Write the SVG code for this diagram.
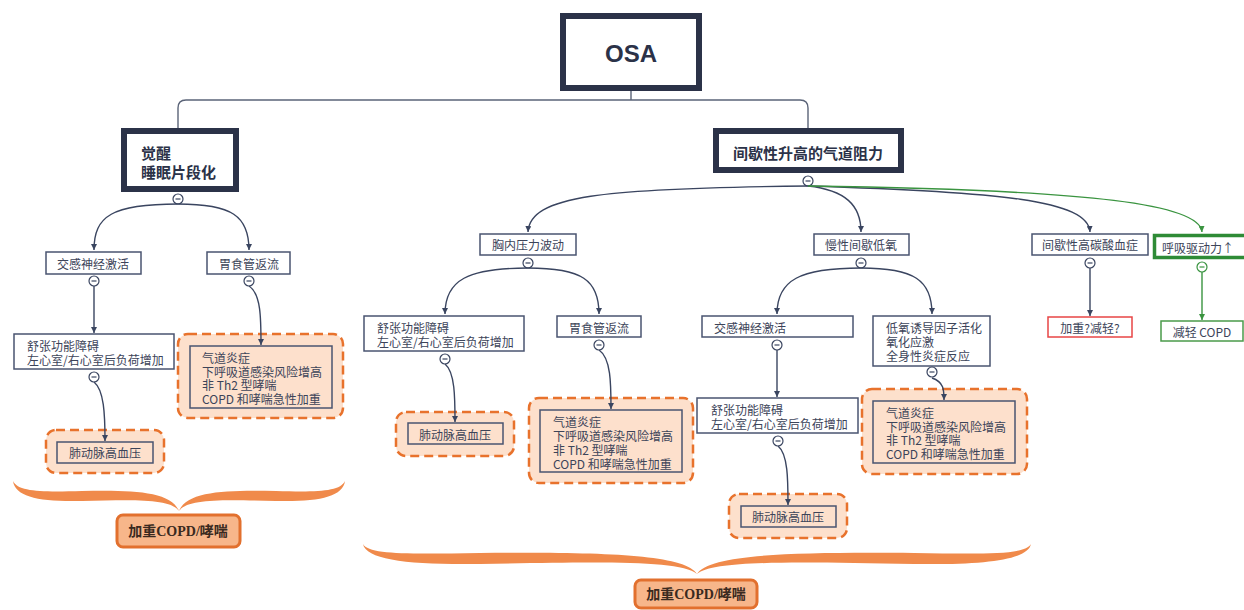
<svg xmlns="http://www.w3.org/2000/svg" width="1244" height="610" viewBox="0 0 1244 610">
<style>
  .t{font-family:"Noto Sans CJK SC","Noto Sans",sans-serif;fill:#3c4459;font-size:12px;dominant-baseline:central}
  .c{text-anchor:middle}
  .b{font-weight:bold;fill:#2b3248}
  .box{fill:#fff;stroke:#4a5470;stroke-width:1.5}
  .main{fill:#fff;stroke:#2b3248;stroke-width:6}
  .dash{fill:#fde0cc;stroke:#e8722c;stroke-width:2.5;stroke-dasharray:9 5}
  .inner{fill:#fde0cc;stroke:#4a5470;stroke-width:1.5}
  .ln{fill:none;stroke:#3a4560;stroke-width:1.4}
  .gl{fill:none;stroke:#3a9440;stroke-width:1.4}
  .brace{fill:#f08a4b}
  .lab{fill:#f7b68a;stroke:#e2702e;stroke-width:3}
  .labt{font-family:"Liberation Serif","Noto Sans CJK SC",serif;font-weight:bold;font-size:14px;fill:#3a2a20;text-anchor:middle;dominant-baseline:central}
</style>
<defs>
  <marker id="ah" viewBox="0 0 8 8" refX="8" refY="4" markerWidth="6" markerHeight="6" orient="auto" markerUnits="userSpaceOnUse"><path d="M0,0 L8,4 L0,8 z" fill="#3a4560"/></marker>
  <marker id="ahg" viewBox="0 0 8 8" refX="8" refY="4" markerWidth="6" markerHeight="6" orient="auto" markerUnits="userSpaceOnUse"><path d="M0,0 L8,4 L0,8 z" fill="#3a9440"/></marker>
  <g id="col"><circle r="5" fill="#fff" stroke="#3a4560" stroke-width="1.2"/><line x1="-2.5" y1="0" x2="2.5" y2="0" stroke="#3a4560" stroke-width="1.2"/></g>
  <g id="colg"><circle r="5" fill="#fff" stroke="#3a9440" stroke-width="1.2"/><line x1="-2.5" y1="0" x2="2.5" y2="0" stroke="#3a9440" stroke-width="1.2"/></g>
</defs>
<rect width="1244" height="610" fill="#fff"/>

<g id="osa"><rect class="main" x="563" y="16" width="136" height="72"/><text class="t c b" x="631" y="53" style="font-family:'Liberation Sans',sans-serif;font-size:24px">OSA</text></g>

<g id="arousal"><rect class="main" x="124" y="131" width="112" height="58"/>
  <text class="t b" x="141" y="152" style="font-size:15px">觉醒</text>
  <text class="t b" x="141" y="171" style="font-size:15px">睡眠片段化</text>
  <use href="#col" x="178" y="199"/></g>

<g id="resistance"><rect class="main" x="716" y="131" width="185" height="39"/>
  <text class="t c b" x="808" y="152" style="font-size:15px">间歇性升高的气道阻力</text>
  <use href="#col" x="808" y="181"/></g>

<g id="symp1"><rect class="box" x="46" y="252" width="95" height="22"/><text class="t c" x="93" y="263">交感神经激活</text><use href="#col" x="94" y="281"/></g>
<g id="gerd1"><rect class="box" x="207" y="252" width="83" height="22"/><text class="t c" x="249" y="263">胃食管返流</text><use href="#col" x="249" y="281"/></g>
<g id="diast1"><rect class="box" x="14" y="334" width="160" height="35"/>
  <text class="t" x="27" y="345">舒张功能障碍</text><text class="t" x="27" y="359">左心室/右心室后负荷增加</text><use href="#col" x="94" y="377"/></g>
<g id="ph1"><rect class="dash" x="46" y="430" width="118" height="43" rx="10"/><rect class="inner" x="57" y="442" width="96" height="21"/><text class="t c" x="105" y="452">肺动脉高血压</text></g>
<g id="airway1"><rect class="dash" x="178" y="334" width="165" height="84" rx="10"/><rect class="inner" x="190" y="346" width="142" height="62"/>
  <text class="t" x="202" y="357">气道炎症</text><text class="t" x="202" y="371">下呼吸道感染风险增高</text><text class="t" x="202" y="384">非 Th2 型哮喘</text><text class="t" x="202" y="398">COPD 和哮喘急性加重</text></g>

<g id="thorax"><rect class="box" x="480" y="234" width="96" height="21"/><text class="t c" x="528" y="244">胸内压力波动</text><use href="#col" x="528" y="263"/></g>
<g id="hypoxia"><rect class="box" x="814" y="234" width="95" height="21"/><text class="t c" x="861" y="244">慢性间歇低氧</text><use href="#col" x="861" y="263"/></g>
<g id="hypercap"><rect class="box" x="1032" y="234" width="116" height="21"/><text class="t c" x="1090" y="244">间歇性高碳酸血症</text><use href="#col" x="1090" y="263"/></g>
<g id="drive"><rect x="1154.5" y="235.5" width="92" height="22" fill="#fff" stroke="#2e8b36" stroke-width="3.5"/><text class="t c" x="1198" y="247">呼吸驱动力↑</text><use href="#colg" x="1202" y="267"/></g>
<g id="unsure"><rect x="1048" y="317" width="84" height="20" fill="#fff" stroke="#e84545" stroke-width="1.5"/><text class="t c" x="1090" y="327">加重?减轻?</text></g>
<g id="relieve"><rect x="1161" y="321" width="82" height="20" fill="#fff" stroke="#4a9a4a" stroke-width="1.5"/><text class="t c" x="1202" y="331">减轻 COPD</text></g>

<g id="diast2"><rect class="box" x="364" y="316" width="160" height="35"/>
  <text class="t" x="377" y="327">舒张功能障碍</text><text class="t" x="377" y="341">左心室/右心室后负荷增加</text><use href="#col" x="445" y="359"/></g>
<g id="gerd2"><rect class="box" x="557" y="316" width="84" height="21"/><text class="t c" x="599" y="327">胃食管返流</text><use href="#col" x="599" y="345"/></g>
<g id="symp2"><rect class="box" x="702" y="316" width="151" height="21"/><text class="t" x="714" y="327">交感神经激活</text><use href="#col" x="777" y="345"/></g>
<g id="hif"><rect class="box" x="873" y="316" width="117" height="50"/>
  <text class="t" x="886" y="327">低氧诱导因子活化</text><text class="t" x="886" y="341">氧化应激</text><text class="t" x="886" y="355">全身性炎症反应</text><use href="#col" x="932" y="372"/></g>

<g id="ph2"><rect class="dash" x="396" y="412" width="118" height="44" rx="10"/><rect class="inner" x="408" y="423" width="95" height="21"/><text class="t c" x="455" y="434">肺动脉高血压</text></g>
<g id="airway2"><rect class="dash" x="529" y="398" width="164" height="85" rx="10"/><rect class="inner" x="540" y="410" width="142" height="62"/>
  <text class="t" x="553" y="421">气道炎症</text><text class="t" x="553" y="435">下呼吸道感染风险增高</text><text class="t" x="553" y="449">非 Th2 型哮喘</text><text class="t" x="553" y="463">COPD 和哮喘急性加重</text></g>
<g id="diast3"><rect class="box" x="697" y="398" width="161" height="35"/>
  <text class="t" x="711" y="409">舒张功能障碍</text><text class="t" x="711" y="423">左心室/右心室后负荷增加</text><use href="#col" x="778" y="441"/></g>
<g id="ph3"><rect class="dash" x="729" y="494" width="118" height="44" rx="10"/><rect class="inner" x="741" y="506" width="95" height="21"/><text class="t c" x="788" y="516">肺动脉高血压</text></g>
<g id="airway3"><rect class="dash" x="862" y="389" width="165" height="85" rx="10"/><rect class="inner" x="873" y="401" width="142" height="62"/>
  <text class="t" x="886" y="412">气道炎症</text><text class="t" x="886" y="426">下呼吸道感染风险增高</text><text class="t" x="886" y="439">非 Th2 型哮喘</text><text class="t" x="886" y="453">COPD 和哮喘急性加重</text></g>

<g id="brace1">
  <path class="brace" d="M13,481 C15,497 40,502 82,501 C132,500 170,498 179,511 C171,491 132,490 82,491 C42,492 18,492 13,481 Z M345,481 C343,497 318,502 276,501 C226,500 188,498 179,511 C187,491 226,490 276,491 C316,492 340,492 345,481 Z"/>
  <rect class="lab" x="117" y="515" width="123" height="32" rx="6"/><text class="labt" x="178" y="531">加重COPD/哮喘</text>
</g>
<g id="brace2">
  <path class="brace" d="M363,544 C366,560 410,565 480,564 C600,562 680,560 697,574 C685,554 600,552 480,553 C410,554 369,555 363,544 Z M1031,544 C1028,560 984,565 914,564 C794,562 714,560 697,574 C709,554 794,552 914,553 C984,554 1025,555 1031,544 Z"/>
  <rect class="lab" x="635" y="580" width="122" height="28" rx="6"/><text class="labt" x="696" y="594">加重COPD/哮喘</text>
</g>

<g id="connectors">
  <path class="ln" style="stroke:#5b6478" d="M631,91 L631,100 M178,128 L178,108 Q178,100 186,100 L800,100 Q808,100 808,108 L808,128"/>
  <path class="ln" d="M178,204 C112,204 94,216 94,250" marker-end="url(#ah)"/>
  <path class="ln" d="M178,204 C232,204 249,216 249,250" marker-end="url(#ah)"/>
  <path class="ln" d="M94,286 L94,333" marker-end="url(#ah)"/>
  <path class="ln" d="M249,286 C261,294 261,318 261,345" marker-end="url(#ah)"/>
  <path class="ln" d="M94,382 C104,390 105,414 105,441" marker-end="url(#ah)"/>
  <path class="ln" d="M808,186 C600,188 530,196 528,232" marker-end="url(#ah)"/>
  <path class="ln" d="M808,186 C845,190 861,205 861,232" marker-end="url(#ah)"/>
  <path class="ln" d="M808,186 C1000,192 1088,200 1090,232" marker-end="url(#ah)"/>
  <path class="gl" d="M808,186 C1100,190 1200,205 1202,232" marker-end="url(#ahg)"/>
  <path class="ln" d="M528,268 C468,268 445,280 445,314" marker-end="url(#ah)"/>
  <path class="ln" d="M528,268 C582,268 599,280 599,314" marker-end="url(#ah)"/>
  <path class="ln" d="M861,268 C800,268 777,280 777,314" marker-end="url(#ah)"/>
  <path class="ln" d="M861,268 C914,268 932,280 932,314" marker-end="url(#ah)"/>
  <path class="ln" d="M445,364 C455,372 455,398 455,422" marker-end="url(#ah)"/>
  <path class="ln" d="M599,350 C611,358 611,384 611,409" marker-end="url(#ah)"/>
  <path class="ln" d="M777,350 L777,397" marker-end="url(#ah)"/>
  <path class="ln" d="M778,446 C788,454 788,480 788,505" marker-end="url(#ah)"/>
  <path class="ln" d="M932,378 C944,382 944,390 944,400" marker-end="url(#ah)"/>
  <path class="ln" d="M1090,268 L1090,316" marker-end="url(#ah)"/>
  <path class="gl" d="M1202,272 L1202,320" marker-end="url(#ahg)"/>
</g>
</svg>
